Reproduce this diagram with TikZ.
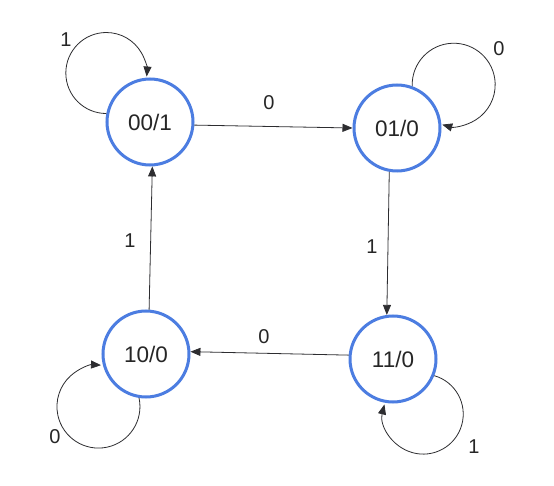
\documentclass[tikz,border=0pt]{standalone}
\usepackage{fontspec}
\setmainfont{Liberation Sans}
\usetikzlibrary{arrows.meta}
\definecolor{ringblue}{RGB}{76,125,225}
\definecolor{edgegray}{RGB}{45,45,48}
\begin{document}
\begin{tikzpicture}[x=1pt,y=1pt,
  state/.style={circle,draw=ringblue,line width=3pt,minimum size=86pt,inner sep=0pt,font=\fontsize{22.5}{26}\selectfont,text=black!85},
  edge/.style={draw=edgegray,line width=0.8pt,-{Triangle[length=10pt,width=8pt]}},
  lbl/.style={font=\fontsize{20}{23}\selectfont,text=black!85}]
\useasboundingbox[fill=white] (0,0) rectangle (554,-486);
\node[state] (n00) at (150,-122) {00/1};
\node[state] (n01) at (397,-128) {01/0};
\node[state] (n10) at (146,-354) {10/0};
\node[state] (n11) at (393,-359) {11/0};
% straight transitions
\draw[edge] (n00.-4) -- (n01.west);
\draw[edge] (n01.260) -- (n11.98);
\draw[edge] (n11.175) -- (n10.3);
\draw[edge] (n10.86) -- (n00.273);
% self loops
\draw[edge] (n00.169) arc[start angle=270,end angle=-5,radius=40.5pt];
\draw[edge] (n01.70) arc[start angle=182,end angle=-106,radius=41.5pt];
\draw[edge] (n10.261) arc[start angle=12,end angle=-273.5,radius=41.5pt];
\draw[edge] (n11.-22) arc[start angle=74,end angle=-194,radius=40pt];
% labels
\node[lbl] (l1) at (66,-40) {1};
\node[lbl] (l2) at (269,-103) {0};
\node[lbl] (l3) at (499,-49) {0};
\node[lbl] (l4) at (372,-247) {1};
\node[lbl] (l5) at (130,-241) {1};
\node[lbl] (l6) at (264,-337) {0};
\node[lbl] (l7) at (55,-437) {0};
\node[lbl] (l8) at (474,-447) {1};
\end{tikzpicture}
\end{document}
